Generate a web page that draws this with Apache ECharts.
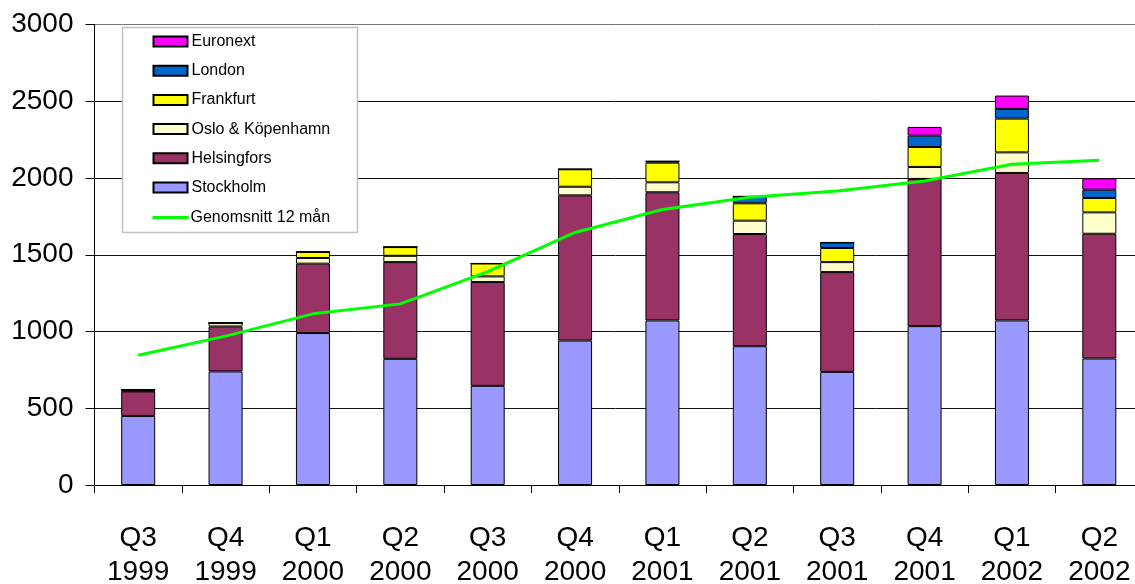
<!DOCTYPE html>
<html>
<head>
<meta charset="utf-8">
<script src="https://cdn.jsdelivr.net/npm/echarts@6/dist/echarts.min.js"></script>
<style>
html,body{margin:0;padding:0;background:#fff;overflow:hidden;}
#chart{width:1135px;height:584px;}
</style>
</head>
<body>
<div id="chart"></div>
<script>
const categories = ['Q3\n1999','Q4\n1999','Q1\n2000','Q2\n2000','Q3\n2000','Q4\n2000','Q1\n2001','Q2\n2001','Q3\n2001','Q4\n2001','Q1\n2002','Q2\n2002'];
const stockholm   = [450, 740, 990, 822, 646, 941, 1072, 904, 737, 1035, 1072, 824];
const helsingfors = [160, 293, 452, 630, 676, 946, 835, 731, 650, 959, 961, 813];
const osloKpn     = [4, 22, 37, 41, 37, 56, 65, 87, 65, 78, 134, 139];
const frankfurt   = [4, 0, 40, 57, 84, 114, 128, 113, 92, 130, 220, 94];
const london      = [3, 0, 0, 0, 0, 0, 9, 45, 36, 74, 63, 54];
const euronext    = [0, 0, 0, 0, 0, 0, 0, 0, 0, 57, 87, 74];
const avg12       = [845, 970, 1115, 1180, 1390, 1645, 1795, 1875, 1915, 1980, 2090, 2115];
const yTicks = [0, 500, 1000, 1500, 2000, 2500, 3000];

const FONT = 'Liberation Sans, Arial, sans-serif';
const chart = echarts.init(document.getElementById('chart'), null, {renderer:'canvas', width:1135, height:584});

function barSeries(name, data, color){
  return {
    name, type:'bar', stack:'total', data, barWidth:34,
    itemStyle:{color, borderColor:'#000', borderWidth:1},
    emphasis:{disabled:true}
  };
}

chart.setOption({
  animation:false,
  backgroundColor:'#fff',
  grid:{left:94.5, top:24.5, width:1048.5, height:460.5, containLabel:false, outerBoundsMode:'none'},
  graphic:[{
    type:'rect', z:3,
    shape:{x:122.5, y:27.5, width:235, height:205},
    style:{fill:'#fff', stroke:'#c0c0c0', lineWidth:1.5}
  }],
  legend:[{
    z:5, orient:'vertical', left:152.5, top:33.5, padding:0,
    itemWidth:34, itemHeight:10, itemGap:13.2, icon:'rect',
    data:['Euronext','London','Frankfurt','Oslo & Köpenhamn','Helsingfors','Stockholm'],
    textStyle:{fontFamily:FONT, fontSize:16, color:'#000', lineHeight:16, padding:[0,0,0,-1]},
    selectedMode:false
  },{
    z:5, orient:'vertical', left:152.5, top:209.5, padding:0,
    itemWidth:36, itemHeight:3, icon:'rect',
    data:['Genomsnitt 12 mån'],
    itemStyle:{color:'#00FF00', borderWidth:0},
    textStyle:{fontFamily:FONT, fontSize:16, color:'#000', lineHeight:16, padding:[0,0,0,-3]},
    selectedMode:false
  }],
  xAxis:{
    type:'category', data:categories,
    axisLine:{lineStyle:{color:'#000', width:1}},
    axisTick:{show:true, length:8, lineStyle:{color:'#000'}},
    axisLabel:{fontFamily:FONT, fontSize:28, color:'#000', lineHeight:34, margin:36, interval:0}
  },
  yAxis:{
    type:'value', min:0, max:3000, interval:500,
    axisLine:{show:true, lineStyle:{color:'#000', width:1}},
    axisTick:{show:true, length:9, lineStyle:{color:'#000'}},
    axisLabel:{fontFamily:FONT, fontSize:28, color:'#000', margin:21,
      formatter:v=> yTicks.includes(v) ? String(v) : ''},
    splitLine:{show:true, lineStyle:{color:['#000','#111','#111','#111','#111','#111','#777'], width:1}}
  },
  series:[
    barSeries('Stockholm', stockholm, '#9999FF'),
    barSeries('Helsingfors', helsingfors, '#993366'),
    barSeries('Oslo & Köpenhamn', osloKpn, '#FFFFCC'),
    barSeries('Frankfurt', frankfurt, '#FFFF00'),
    barSeries('London', london, '#0066CC'),
    barSeries('Euronext', euronext, '#FF00FF'),
    {
      name:'Genomsnitt 12 mån', type:'line', data:avg12, z:6,
      symbol:'none', showSymbol:false,
      lineStyle:{color:'#00FF00', width:3},
      itemStyle:{color:'#00FF00'},
      emphasis:{disabled:true}
    }
  ]
});
</script>
</body>
</html>
